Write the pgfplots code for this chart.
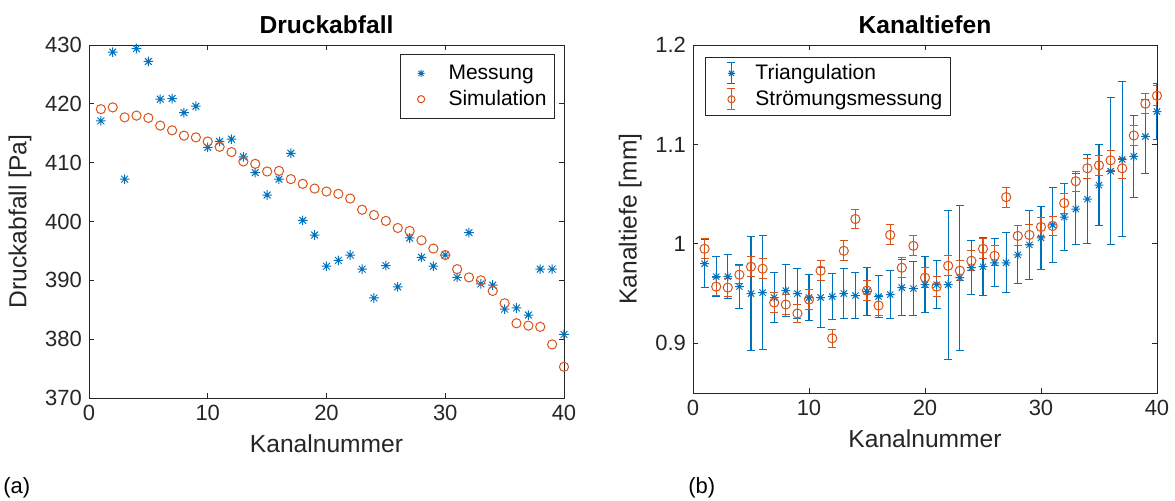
\documentclass[border=0pt]{standalone}
\usepackage{pgfplots}
\pgfplotsset{compat=1.18}
\usepackage{pgfplotstable}
\usepackage{fontspec}
\setmainfont{Liberation Sans}
\definecolor{mblue}{rgb}{0,0.447,0.741}
\definecolor{morange}{rgb}{0.85,0.325,0.098}
\definecolor{axgray}{rgb}{0.15,0.15,0.15}

\pgfdeclareplotmark{mstar}{%
  \pgfpathmoveto{\pgfqpoint{-\pgfplotmarksize}{0pt}}%
  \pgfpathlineto{\pgfqpoint{\pgfplotmarksize}{0pt}}%
  \pgfpathmoveto{\pgfqpoint{0pt}{-\pgfplotmarksize}}%
  \pgfpathlineto{\pgfqpoint{0pt}{\pgfplotmarksize}}%
  \pgfpathmoveto{\pgfqpoint{-.7071\pgfplotmarksize}{-.7071\pgfplotmarksize}}%
  \pgfpathlineto{\pgfqpoint{.7071\pgfplotmarksize}{.7071\pgfplotmarksize}}%
  \pgfpathmoveto{\pgfqpoint{-.7071\pgfplotmarksize}{.7071\pgfplotmarksize}}%
  \pgfpathlineto{\pgfqpoint{.7071\pgfplotmarksize}{-.7071\pgfplotmarksize}}%
  \pgfusepathqstroke}
\pgfdeclareplotmark{capblue}{%
  \pgfsetstrokecolor{mblue}\pgfsetlinewidth{0.5pt}%
  \pgfpathmoveto{\pgfqpoint{-\pgfplotmarksize}{0pt}}%
  \pgfpathlineto{\pgfqpoint{\pgfplotmarksize}{0pt}}%
  \pgfusepathqstroke}
\pgfdeclareplotmark{caporange}{%
  \pgfsetstrokecolor{morange}\pgfsetlinewidth{0.5pt}%
  \pgfpathmoveto{\pgfqpoint{-\pgfplotmarksize}{0pt}}%
  \pgfpathlineto{\pgfqpoint{\pgfplotmarksize}{0pt}}%
  \pgfusepathqstroke}

\pgfplotstableread{
k v
1 417.1
2 428.8
3 407.2
4 429.4
5 427.2
6 420.8
7 420.9
8 418.5
9 419.6
10 412.6
11 413.6
12 414.0
13 411.0
14 408.3
15 404.5
16 407.2
17 411.6
18 400.2
19 397.7
20 392.4
21 393.4
22 394.3
23 391.9
24 387.0
25 392.5
26 388.9
27 397.2
28 393.9
29 392.4
30 394.3
31 390.5
32 398.1
33 389.4
34 389.2
35 385.1
36 385.3
37 384.1
38 391.9
39 391.9
40 380.8
}\messung

\pgfplotstableread{
k v
1 419.1
2 419.4
3 417.7
4 418.0
5 417.6
6 416.3
7 415.5
8 414.6
9 414.3
10 413.6
11 412.7
12 411.8
13 410.2
14 409.8
15 408.5
16 408.6
17 407.2
18 406.4
19 405.6
20 405.1
21 404.7
22 403.9
23 402.0
24 401.1
25 400.1
26 398.9
27 398.4
28 396.8
29 395.4
30 394.3
31 391.9
32 390.5
33 390.0
34 388.2
35 386.1
36 382.7
37 382.3
38 382.1
39 379.1
40 375.3
}\simulation

\pgfplotstableread{
k v e
1 0.980 0.024
2 0.967 0.020
3 0.967 0.022
4 0.957 0.022
5 0.950 0.057
6 0.951 0.057
7 0.946 0.025
8 0.953 0.026
9 0.950 0.025
10 0.946 0.023
11 0.946 0.030
12 0.947 0.023
13 0.950 0.025
14 0.948 0.023
15 0.952 0.024
16 0.947 0.021
17 0.949 0.024
18 0.956 0.028
19 0.955 0.027
20 0.959 0.028
21 0.959 0.024
22 0.959 0.075
23 0.966 0.073
24 0.976 0.027
25 0.977 0.029
26 0.981 0.024
27 0.981 0.030
28 0.989 0.029
29 0.999 0.035
30 1.006 0.032
31 1.019 0.038
32 1.027 0.034
33 1.035 0.036
34 1.045 0.045
35 1.059 0.041
36 1.073 0.074
37 1.085 0.078
38 1.088 0.041
39 1.108 0.037
40 1.133 0.028
}\triang

\pgfplotstableread{
k v e
1 0.995 0.010
2 0.957 0.009
3 0.956 0.009
4 0.969 0.009
5 0.977 0.010
6 0.975 0.010
7 0.941 0.010
8 0.939 0.010
9 0.930 0.009
10 0.944 0.010
11 0.973 0.010
12 0.905 0.009
13 0.993 0.010
14 1.025 0.010
15 0.953 0.010
16 0.938 0.010
17 1.009 0.010
18 0.976 0.010
19 0.998 0.010
20 0.966 0.010
21 0.957 0.010
22 0.978 0.010
23 0.973 0.010
24 0.983 0.010
25 0.995 0.010
26 0.988 0.010
27 1.047 0.010
28 1.008 0.010
29 1.009 0.010
30 1.017 0.010
31 1.018 0.010
32 1.041 0.010
33 1.063 0.010
34 1.076 0.010
35 1.079 0.010
36 1.084 0.010
37 1.076 0.010
38 1.109 0.010
39 1.141 0.010
40 1.149 0.010
}\stroem

\pgfplotsset{
  mystyle/.style={
    scale only axis, anchor=south west,
    axis line style={axgray, line width=0.4pt},
    tick style={axgray, line width=0.4pt},
    major tick length=2.5pt,
    tick label style={font=\fontsize{11}{13}\selectfont, text=axgray},
    label style={font=\fontsize{12.3}{14}\selectfont, text=axgray},
    title style={font=\bfseries\fontsize{12.3}{14}\selectfont, yshift=-4pt},
    /pgf/number format/assume math mode=true,
    legend style={font=\fontsize{10.5}{12.5}\selectfont, draw=axgray, line width=0.4pt,
      inner xsep=2pt, inner ysep=1.5pt, row sep=0pt},
    legend cell align=left,
  }
}

\begin{document}
\begin{tikzpicture}
\useasboundingbox (0,0) rectangle (587.5pt,250pt);
\begin{axis}[mystyle, at={(44.5pt,51pt)}, width=237.5pt, height=176.5pt,
  xmin=0, xmax=40, ymin=370, ymax=430,
  xtick={0,10,20,30,40}, ytick={370,380,...,430},
  title={Druckabfall}, xlabel={Kanalnummer}, ylabel={Druckabfall [Pa]},
  legend style={at={(0.981,0.975)}, anchor=north east, inner ysep=3.2pt},
  legend image code/.code={\path[draw=none,fill=none] (0pt,0pt) (20pt,0pt);
    \draw[mark repeat=2,mark phase=2,#1,mark size=1.8pt] plot coordinates {(0pt,0pt)(8.3pt,0pt)(16.6pt,0pt)};},
]
\addplot[only marks, mark=mstar, mark size=2.4pt, mblue, line width=0.5pt] table[x=k,y=v] {\messung};
\addlegendentry{Messung}
\addplot[only marks, mark=o, mark size=2.3pt, morange, line width=0.5pt] table[x=k,y=v] {\simulation};
\addlegendentry{Simulation}
\end{axis}

\begin{axis}[mystyle, at={(346.5pt,53.5pt)}, width=232pt, height=174pt,
  xmin=0, xmax=40, ymin=0.85, ymax=1.2,
  xtick={0,10,20,30,40}, ytick={0.9,1,1.1,1.2},
  title={Kanaltiefen}, xlabel={Kanalnummer}, ylabel={Kanaltiefe [mm]},
  legend style={at={(0.026,0.966)}, anchor=north west},
  legend image code/.code={%
    \path[draw=none,fill=none] (0pt,0pt) (21pt,0pt);
    \draw[#1, line width=0.6pt] (11pt,-5.2pt) -- (11pt,5.2pt);
    \draw[#1, line width=0.5pt] (9pt,-5.2pt) -- (13pt,-5.2pt) (9pt,5.2pt) -- (13pt,5.2pt);
    \draw[mark repeat=2,mark phase=2,#1,mark size=1.8pt] plot coordinates {(0pt,0pt)(11pt,0pt)(22pt,0pt)};},
]
\addplot[only marks, mark=mstar, mark size=2.2pt, mblue, line width=0.5pt,
  error bars/.cd, y dir=both, y explicit, error mark=capblue,
  error bar style={line width=0.6pt, mblue},
  error mark options={rotate=90, mark size=2pt, line width=0.5pt, draw=mblue, color=mblue}]
  table[x=k,y=v,y error=e] {\triang};
\addlegendentry{Triangulation}
\addplot[only marks, mark=o, mark size=2.3pt, morange, line width=0.5pt,
  error bars/.cd, y dir=both, y explicit, error mark=caporange,
  error bar style={line width=0.6pt, morange},
  error mark options={rotate=90, mark size=2pt, line width=0.5pt, draw=morange, color=morange}]
  table[x=k,y=v,y error=e] {\stroem};
\addlegendentry{Strömungsmessung}
\end{axis}

\node[anchor=west, font=\fontsize{11}{13}\selectfont, inner sep=0pt] at (1.5pt,6pt) {(a)};
\node[anchor=west, font=\fontsize{11}{13}\selectfont, inner sep=0pt] at (344pt,6pt) {(b)};
\end{tikzpicture}
\end{document}
